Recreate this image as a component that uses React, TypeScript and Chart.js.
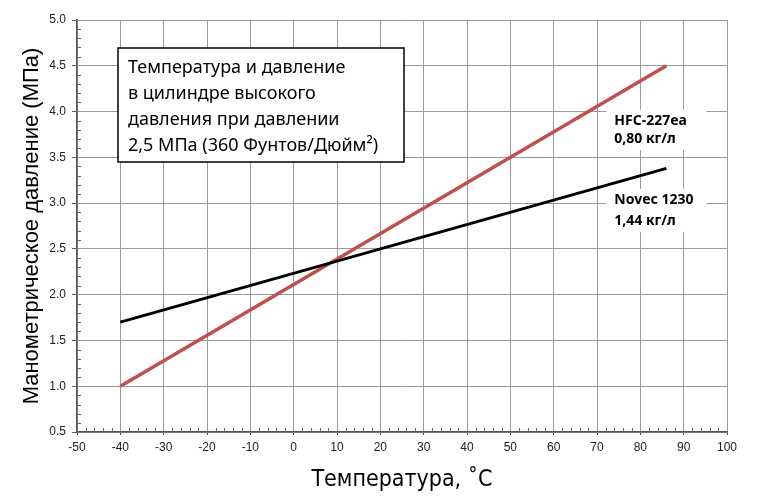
import { useEffect, useRef } from 'react';
import Chart from 'chart.js/auto';

// значения
const temperature = [-40, 86];
const hfcPressure = [1.0, 4.5];
const novecPressure = [1.7, 3.38];

const seriesNames = ['HFC-227ea', 'Novec 1230'];
const seriesDensity = ['0,80 кг/л', '1,44 кг/л'];
const seriesColors = ['#c0504d', '#000000'];

const boxLines = [
  'Температура и давление',
  'в цилиндре высокого',
  'давления при давлении',
  '2,5 МПа (360 Фунтов/Дюйм²)',
];

const xMin = -50;
const xMax = 100;
const yMin = 0.5;
const yMax = 5.0;

const notesPlugin = {
  id: 'notes',
  afterDatasetsDraw(chart: any) {
    const { ctx, chartArea, scales } = chart;
    const x = scales.x;
    const y = scales.y;
    ctx.save();

    // малые деления
    ctx.strokeStyle = '#666';
    ctx.lineWidth = 1;
    for (let i = 5; i <= 50; i++) {
      if (i % 5 === 0) continue;
      const py = Math.round(y.getPixelForValue(i / 10)) + 0.5;
      ctx.beginPath();
      ctx.moveTo(chartArea.left, py);
      ctx.lineTo(chartArea.left + 4, py);
      ctx.stroke();
    }
    for (let v = xMin; v <= xMax; v += 2) {
      if (v % 10 === 0) continue;
      const px = Math.round(x.getPixelForValue(v)) + 0.5;
      ctx.beginPath();
      ctx.moveTo(px, chartArea.bottom);
      ctx.lineTo(px, chartArea.bottom - 4);
      ctx.stroke();
    }

    // рамка с подписью
    const bx = chartArea.left + 41;
    const by = chartArea.top + 28;
    const bw = 286;
    const bh = 114;
    ctx.fillStyle = '#fff';
    ctx.fillRect(bx, by, bw, bh);
    ctx.strokeStyle = '#000';
    ctx.lineWidth = 1.5;
    ctx.strokeRect(bx, by, bw, bh);
    ctx.fillStyle = '#000';
    ctx.font = '18px "Noto Sans"';
    ctx.textBaseline = 'middle';
    ctx.textAlign = 'left';
    boxLines.forEach((line, i) => {
      ctx.fillText(line, bx + 10, by + 20 + i * 26);
    });

    // подписи серий
    const labelY = [
      [3.9, 3.7],
      [3.035, 2.806],
    ];
    ctx.font = 'bold 14px "Noto Sans"';
    seriesNames.forEach((name, i) => {
      const lx = x.getPixelForValue(74);
      const y1 = y.getPixelForValue(labelY[i][0]);
      const y2 = y.getPixelForValue(labelY[i][1]);
      ctx.fillStyle = '#fff';
      ctx.fillRect(lx - 8, y1 - 11, 100, y2 - y1 + 22);
      ctx.fillStyle = '#000';
      ctx.fillText(name, lx, y1);
      ctx.fillText(seriesDensity[i], lx, y2);
    });
    ctx.restore();
  },
};

const App = () => {
  const chartRef = useRef<HTMLCanvasElement>(null);
  const chartInstance = useRef<Chart | null>(null);

  useEffect(() => {
    document.body.style.margin = '0';
    if (!chartRef.current) return;
    const ctx = chartRef.current.getContext('2d');
    if (!ctx) return;

    if (chartInstance.current) {
      chartInstance.current.destroy();
    }

    const makeData = (values: number[]) =>
      temperature.map((t, i) => ({ x: t, y: values[i] }));

    chartInstance.current = new Chart(ctx, {
      type: 'scatter',
      data: {
        datasets: [
          {
            label: seriesNames[1],
            data: makeData(novecPressure),
            borderColor: seriesColors[1],
            borderWidth: 3,
            showLine: true,
            pointRadius: 0,
          },
          {
            label: seriesNames[0],
            data: makeData(hfcPressure),
            borderColor: seriesColors[0],
            borderWidth: 3.5,
            showLine: true,
            pointRadius: 0,
          },
        ],
      },
      options: {
        animation: false,
        responsive: false,
        maintainAspectRatio: false,
        layout: { padding: { top: 20, right: 43, left: 0, bottom: 0 } },
        plugins: {
          legend: { display: false },
          tooltip: { enabled: false },
        },
        scales: {
          x: {
            type: 'linear',
            min: xMin,
            max: xMax,
            afterFit: (scale: any) => {
              scale.height = 70;
            },
            ticks: {
              stepSize: 10,
              padding: 5,
              color: '#222',
              font: { family: '"Liberation Sans"', size: 12 },
              maxRotation: 0,
            },
            grid: { color: '#9a9a9a', lineWidth: 1, tickLength: 3, tickColor: '#555' },
            border: { color: '#555', width: 1.5 },
            title: {
              display: true,
              text: 'Температура, ˚C',
              color: '#000',
              font: { family: '"DejaVu Sans Condensed", "Liberation Sans", sans-serif', size: 23 },
              padding: { top: 0, bottom: 8 },
            },
          },
          y: {
            type: 'linear',
            min: yMin,
            max: yMax,
            afterFit: (scale: any) => {
              scale.width = 77;
            },
            ticks: {
              stepSize: 0.5,
              padding: 6,
              color: '#222',
              font: { family: '"Liberation Sans"', size: 12 },
              callback: (v: any) => Number(v).toFixed(1),
            },
            grid: { color: '#9a9a9a', lineWidth: 1, tickLength: 5, tickColor: '#666' },
            border: { color: '#555', width: 1.5 },
            title: {
              display: true,
              text: 'Манометрическое давление (МПа)',
              color: '#000',
              font: { family: '"Liberation Sans"', size: 22 },
              padding: { top: 19, bottom: 0 },
            },
          },
        },
      },
      plugins: [notesPlugin],
    });

    return () => {
      if (chartInstance.current) {
        chartInstance.current.destroy();
        chartInstance.current = null;
      }
    };
  }, []);

  return (
    <div style={{ width: 770, height: 502, background: '#fff' }}>
      <canvas ref={chartRef} width={770} height={502} />
    </div>
  );
};

export default App;
